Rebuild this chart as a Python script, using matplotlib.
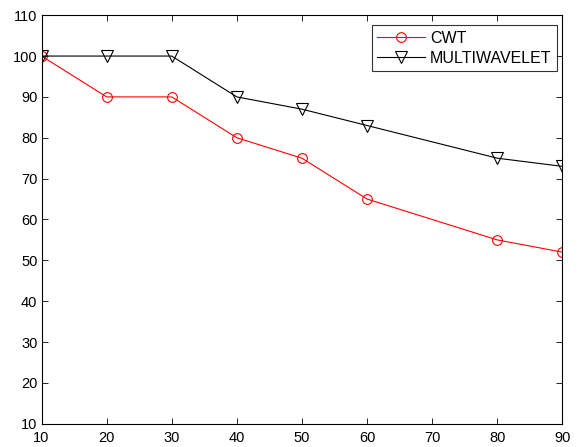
import matplotlib
matplotlib.use("Agg")
import matplotlib.pyplot as plt

x_vals = [10, 20, 30, 40, 50, 60, 80, 90]
cwt = [100, 90, 90, 80, 75, 65, 55, 52]
multiwavelet = [100, 100, 100, 90, 87, 83, 75, 73]

plt.rcParams["font.family"] = ["Liberation Sans", "DejaVu Sans"]

fig = plt.figure(figsize=(5.8, 4.47), dpi=100)
ax = fig.add_axes([0.0716, 0.052, 0.898, 0.914])

ax.plot(x_vals, cwt, "-o", color="red", linewidth=0.8, markersize=7,
        markerfacecolor="none", markeredgewidth=0.8, label="CWT")
ax.plot(x_vals, multiwavelet, "-v", color="black", linewidth=0.8, markersize=8,
        markerfacecolor="none", markeredgewidth=0.8, label="MULTIWAVELET")

ax.set_xlim(10, 90)
ax.set_ylim(10, 110)
ax.set_xticks(range(10, 91, 10))
ax.set_yticks(range(10, 111, 10))
ax.tick_params(direction="in", length=4, width=0.6, top=True, right=True,
               labelsize=10.5)
ax.tick_params(axis="x", pad=5)
ax.tick_params(axis="y", pad=3)
for s in ax.spines.values():
    s.set_linewidth(0.8)

leg = ax.legend(loc="upper right", fontsize=11.5, frameon=True, fancybox=False,
                edgecolor="black", borderpad=0.35, handlelength=3.0,
                handletextpad=0.3, labelspacing=0.3, borderaxespad=0,
                bbox_to_anchor=(0.99, 0.975))
leg.get_frame().set_linewidth(0.8)

fig.savefig("out.png", dpi=100)
